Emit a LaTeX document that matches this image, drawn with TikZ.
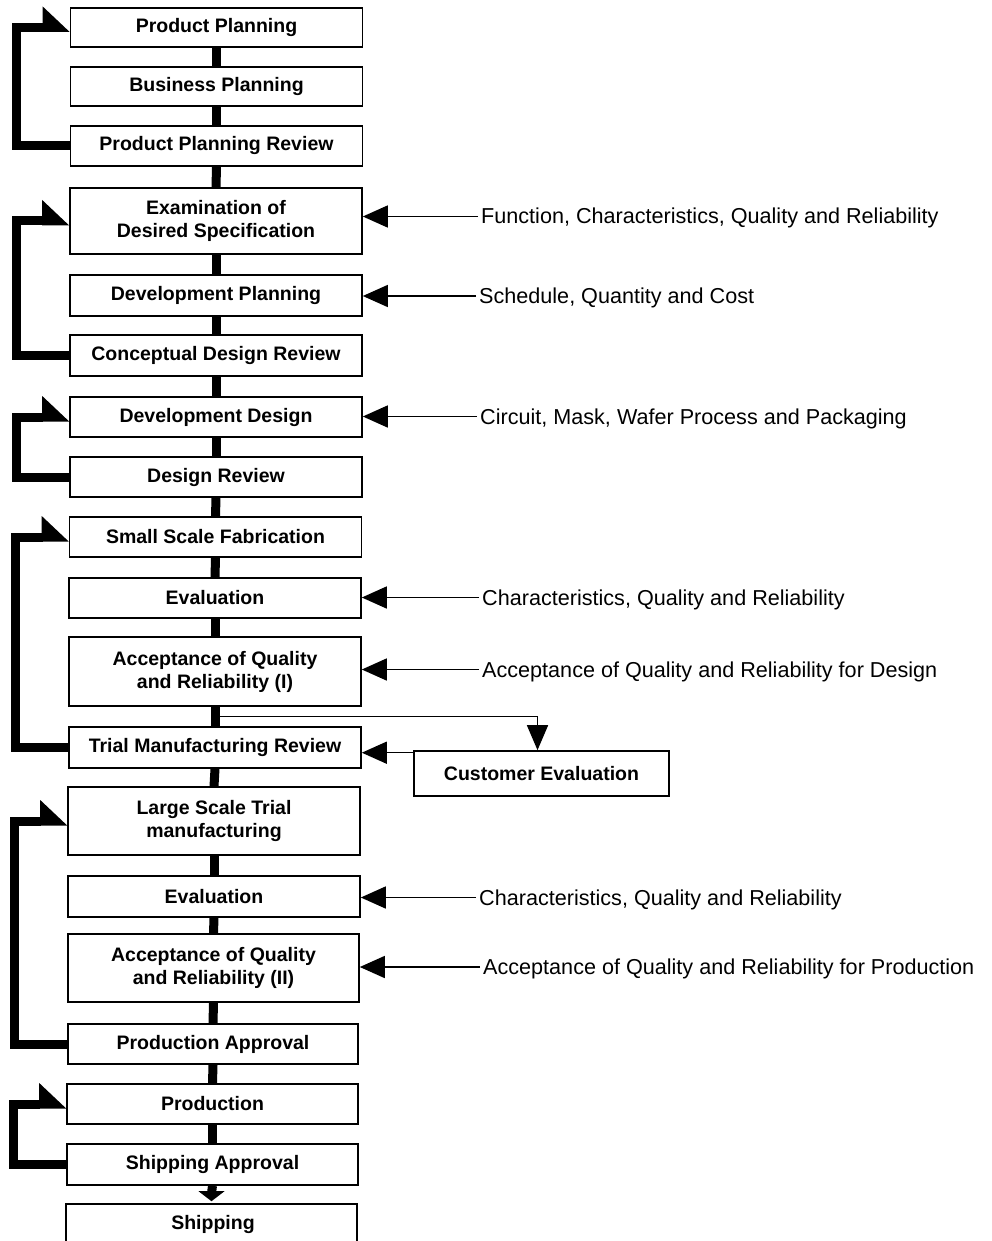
\documentclass[tikz,border=0pt]{standalone}
\usepackage{fontspec}
\setmainfont{Liberation Sans}
\usetikzlibrary{arrows.meta,calc}
\newcommand\fbloop[2]{%
  \draw[fb] (#2.west) -| ([xshift=-53pt]#1.west) -- ([xshift=-26pt]#1.west);
  \fill ([xshift=-27pt,yshift=21pt]#1.west) -- ([yshift=-4.5pt]#1.west) -- ([xshift=-27pt,yshift=-4.5pt]#1.west) -- cycle;}
\begin{document}
\begin{tikzpicture}[x=1pt,y=-1pt,
  box/.style={draw, line width=1.6pt, minimum width=292pt, inner sep=0pt, align=center,
    font=\fontsize{19.5}{23}\selectfont\bfseries},
  lab/.style={anchor=base west, inner sep=0pt, font=\fontsize{21.6}{25}\selectfont},
  spine/.style={line width=9pt},
  fb/.style={line width=9pt, line join=miter},
  inarr/.style={line width=1.5pt, -{Triangle[length=25pt,width=22pt]}},
]
\useasboundingbox (0,0) rectangle (992,1241);
\clip (0,0) rectangle (992,1241);

\node[box, minimum height=39pt] (n1) at (216.5,27.5) {Product Planning};
\node[box, minimum height=39pt] (n2) at (216.5,86.5) {Business Planning};
\node[box, minimum height=40pt] (n3) at (216.5,146) {Product Planning Review};
\node[box, minimum height=66pt] (n4) at (216,221) {Examination of\\Desired Specification};
\node[box, minimum height=41pt] (n5) at (216,295.5) {Development Planning};
\node[box, minimum height=41pt] (n6) at (216,355.5) {Conceptual Design Review};
\node[box, minimum height=40pt] (n7) at (216,417) {Development Design};
\node[box, minimum height=40pt] (n8) at (216,477) {Design Review};
\node[box, minimum height=40pt] (n9) at (215.5,537) {Small Scale Fabrication};
\node[box, minimum height=40pt] (n10) at (215,598) {Evaluation};
\node[box, minimum height=69pt] (n11) at (215,671.5) {Acceptance of Quality\\and Reliability (I)};
\node[box, minimum height=41pt] (n12) at (215,747.5) {Trial Manufacturing Review};
\node[box, minimum height=45pt, minimum width=255pt] (ce) at (541.5,773.5) {Customer Evaluation};
\node[box, minimum height=68pt] (n14) at (214,821) {Large Scale Trial\\manufacturing};
\node[box, minimum height=41pt] (n15) at (214,896.5) {Evaluation};
\node[box, minimum height=68pt, minimum width=291pt] (n16) at (213.5,968) {Acceptance of Quality\\and Reliability (II)};
\node[box, minimum height=40pt, minimum width=290pt] (n17) at (213,1044) {Production Approval};
\node[box, minimum height=40pt, minimum width=291pt] (n18) at (212.5,1104) {Production};
\node[box, minimum height=41pt, minimum width=291pt] (n19) at (212.5,1164.5) {Shipping Approval};
\node[box, minimum height=60pt, minimum width=291pt, text height=14pt, text depth=4pt] (n20) at (211.5,1234) {};
\node[font=\fontsize{19.5}{23}\selectfont\bfseries] (n20t) at (213,1224) {Shipping};

% spine
\foreach \a/\b in {n1/n2,n2/n3,n3/n4,n4/n5,n5/n6,n6/n7,n7/n8,n8/n9,n9/n10,n10/n11,n11/n12,n12/n14,n14/n15,n15/n16,n16/n17,n17/n18,n18/n19}
  \draw[spine] (\a.south) -- (\b.north);
\draw[spine] (n19.south) -- ([yshift=10pt]n20.north);
\fill ([xshift=-13pt,yshift=12pt]n20.north) -- ([xshift=13pt,yshift=12pt]n20.north) -- ([yshift=2pt]n20.north) -- cycle;

% feedback loops
\fbloop{n1}{n3}
\fbloop{n4}{n6}
\fbloop{n7}{n8}
\fbloop{n9}{n12}
\fbloop{n14}{n17}
\fbloop{n18}{n19}

% input labels
\node[lab] (l4) at (481,224) {Function, Characteristics, Quality and Reliability};
\node[lab] (l5) at (479,303.5) {Schedule, Quantity and Cost};
\node[lab] (l7) at (480,424) {Circuit, Mask, Wafer Process and Packaging};
\node[lab] (l10) at (482,605) {Characteristics, Quality and Reliability};
\node[lab] (l11) at (482,677) {Acceptance of Quality and Reliability for Design};
\node[lab] (l15) at (479,905) {Characteristics, Quality and Reliability};
\node[lab] (l16) at (483,974.5) {Acceptance of Quality and Reliability for Production};

\foreach \l/\n in {l4/n4,l5/n5,l7/n7,l10/n10,l11/n11,l15/n15,l16/n16}{
  \coordinate (a\l) at ([xshift=-3pt,yshift=7.5pt]\l.base west);
  \draw[inarr] (a\l) -- (a\l -| \n.east);
}

% customer evaluation branch
\coordinate (br) at ($(n11.south)!0.5!(n12.north)$);
\draw[line width=1.5pt, -{Triangle[length=25pt,width=21pt]}] (br) -| ([xshift=-4pt]ce.north);
\coordinate (cw) at ([yshift=-2.5pt]ce.north west);
\draw[inarr] (cw) -- (cw -| n12.east);
\end{tikzpicture}
\end{document}
